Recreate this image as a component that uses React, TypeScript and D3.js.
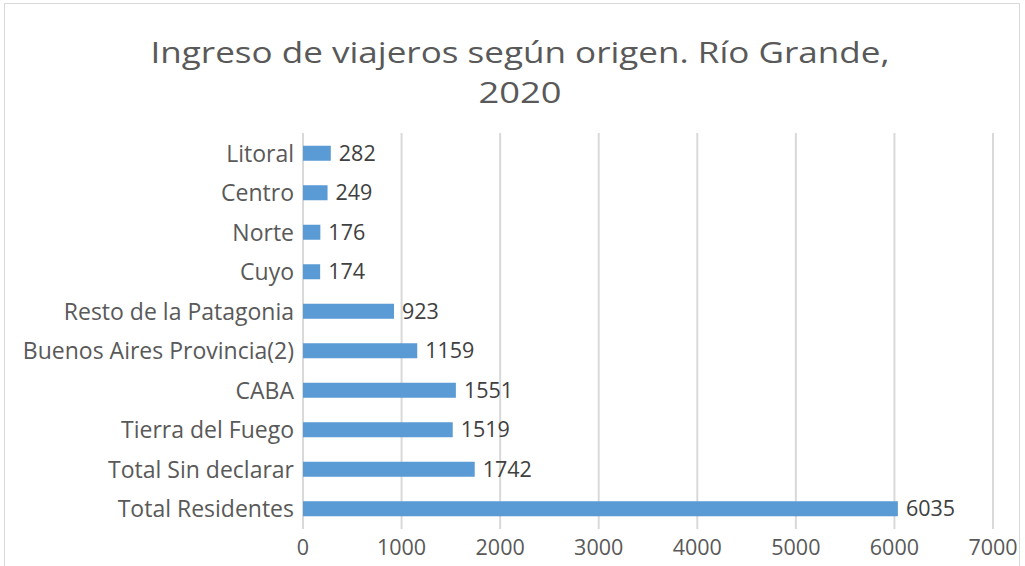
import React from "react";
import * as d3 from "d3";

const categories = [
  "Litoral",
  "Centro",
  "Norte",
  "Cuyo",
  "Resto de la Patagonia",
  "Buenos Aires Provincia(2)",
  "CABA",
  "Tierra del Fuego",
  "Total Sin declarar",
  "Total Residentes",
];
const values = [282, 249, 176, 174, 923, 1159, 1551, 1519, 1742, 6035];
const ticks = [0, 1000, 2000, 3000, 4000, 5000, 6000, 7000];
const titleLines = ["Ingreso de viajeros según origen. Río Grande,", "2020"];
const titleWidths = [739, 83];

const W = 1025;
const H = 566;
const FONT = "'Open Sans', 'DejaVu Sans', sans-serif";

export default function App() {
  const x = d3.scaleLinear().domain([0, 7000]).range([303, 993]);
  const y = d3.scaleBand().domain(categories).range([133.5, 528.5]).paddingInner(0.62).paddingOuter(0.31);
  const bw = y.bandwidth();
  return (
    <svg width={W} height={H} style={{ position: "absolute", left: 0, top: 0, background: "#fff" }}>
      <rect x={4.5} y={3.5} width={1015} height={580} fill="#fff" stroke="#D9D9D9" strokeWidth={1} />
      {titleLines.map((t, i) => (
        <text
          key={i}
          x={520}
          y={63 + i * 40}
          textAnchor="middle"
          fontFamily={FONT}
          fontSize={30}
          fill="#595959"
          textLength={titleWidths[i]}
          lengthAdjust="spacingAndGlyphs"
        >
          {t}
        </text>
      ))}
      {ticks.map((t) => (
        <g key={t}>
          <line x1={x(t)} x2={x(t)} y1={133} y2={529} stroke="#D9D9D9" strokeWidth={2} />
          <text x={x(t)} y={555} textAnchor="middle" fontFamily={FONT} fontSize={21.5} fill="#595959">
            {t}
          </text>
        </g>
      ))}
      {categories.map((c, i) => {
        const yy = y(c)!;
        return (
          <g key={c}>
            <rect x={x(0)} y={yy} width={x(values[i]) - x(0)} height={bw} fill="#5B9BD5" />
            <text x={294} y={yy + bw / 2} dy="0.36em" textAnchor="end" fontFamily={FONT} fontSize={23} fill="#595959">
              {c}
            </text>
            <text x={x(values[i]) + 8} y={yy + bw / 2} dy="0.36em" fontFamily={FONT} fontSize={21.5} fill="#404040">
              {values[i]}
            </text>
          </g>
        );
      })}
    </svg>
  );
}
